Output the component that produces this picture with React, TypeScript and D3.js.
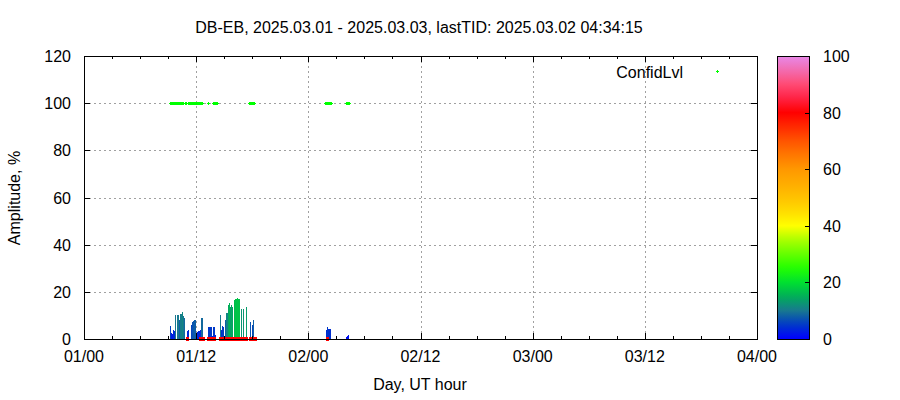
import React from "react";
import * as d3 from "d3";

const TITLE = "DB-EB, 2025.03.01 - 2025.03.03, lastTID: 2025.03.02 04:34:15";
const X_LABEL = "Day, UT hour";
const Y_LABEL = "Amplitude, %";
const LEGEND = "ConfidLvl";

const xTickHours = [0, 12, 24, 36, 48, 60, 72];
const xTickLabels = ["01/00", "01/12", "02/00", "02/12", "03/00", "03/12", "04/00"];
const xMinorHours = [3, 6, 9, 15, 18, 21, 27, 30, 33, 39, 42, 45, 51, 54, 57, 63, 66, 69];
const yTicks = [0, 20, 40, 60, 80, 100, 120];
const cbTicks = [0, 20, 40, 60, 80, 100];

// palette stops (value -> colour)
const paletteValues = [0, 5, 10, 15, 20, 25, 30, 35, 40, 45, 50, 55, 60, 65, 70, 75, 80, 85, 90, 95, 100];
const paletteColors = [
  "#0000ff", "#0038c8", "#187890", "#00ae58", "#00e030", "#22ff00", "#64ff00", "#aaff00",
  "#ffff00", "#ffdc00", "#ffc200", "#ffac00", "#ff9800", "#ff7800", "#ff5400", "#ff2a00",
  "#ff0000", "#ff2244", "#ff4a74", "#f26cb0", "#e888e8",
];

// amplitude bars: hours since 01/00 and amplitude %
const barHours = [
  9.2, 9.31, 9.41, 9.52, 9.63, 9.74, 9.95, 10.06, 10.16, 10.27, 10.38, 10.48, 10.59, 10.7,
  11.02, 11.13, 11.45, 11.55, 11.66, 11.77, 11.88, 12.09, 12.2, 12.3, 12.41, 12.52, 12.62,
  13.27, 13.37, 13.48, 13.59, 13.69, 13.8, 13.91, 14.02,
  14.55, 14.66, 14.76, 14.87, 15.09, 15.19, 15.3, 15.41, 15.51, 15.62, 15.73, 15.83,
  16.05, 16.15, 16.26, 16.37, 16.48, 16.58, 16.8, 17.01, 17.33, 17.76, 17.97, 18.08,
  25.89, 26.0, 26.1, 26.21, 26.32, 28.03, 28.14, 28.24,
];
const barValues = [
  5.5, 2.5, 2.2, 4, 3.6, 10, 10, 10.2, 8, 10.6, 10.4, 11.3, 9.8, 9,
  3.5, 4, 6, 7, 7.6, 8, 8, 3, 3.5, 3.5, 4, 8.8, 8.8,
  5, 5, 5, 5, 1.3, 5, 5, 1.7,
  10, 4, 5.5, 5.2, 8, 11, 11, 14.4, 15.4, 13.7, 14.4, 13.7,
  16.5, 17, 17, 17.3, 17, 17, 12.7, 12.7, 13.4, 7, 6, 8,
  4.0, 5.0, 4.2, 4.2, 4.2, 1.0, 1.4, 1.7,
];

// ConfidLvl points at 100 (green) and at 0 (red)
const highPointHours = [
  9.2, 9.31, 9.41, 9.52, 9.63, 9.74, 9.84, 9.95, 10.06, 10.16, 10.27, 10.38, 10.48, 10.59,
  10.81, 10.91, 11.13, 11.23, 11.34, 11.45, 11.55, 11.66, 11.77, 11.88, 11.98, 12.09, 12.2, 12.3,
  12.41, 12.52, 12.62, 13.27, 13.8, 13.91, 14.02, 14.12, 14.23,
  17.65, 17.76, 17.87, 17.97, 18.08, 18.19,
  25.78, 25.89, 26.0, 26.1, 26.21, 26.32, 26.43, 28.03, 28.14, 28.24, 28.35,
];
const highPointValue = 100;
const lowPointHours = [
  11.02, 12.41, 12.52, 12.62, 12.73, 13.27, 13.37, 13.48, 13.59, 13.69, 13.8, 13.91,
  14.55, 14.66, 14.76, 14.87, 14.98, 15.09, 15.19, 15.3, 15.41, 15.51, 15.62, 15.73, 15.83,
  15.94, 16.05, 16.15, 16.26, 16.37, 16.48, 16.58, 16.69, 16.9, 17.01, 17.12, 17.33, 17.76,
  17.97, 18.08, 18.19, 18.29, 26.0,
];
const lowPointValue = 0;

const W = 900;
const H = 400;
const M = { left: 84, right: 757, top: 56, bottom: 339 };
const CB = { left: 777, right: 809 };
const FONT = "'Liberation Sans', Arial, sans-serif";

export default function App() {
  const xs = d3.scaleLinear().domain([0, 72]).range([M.left, M.right]);
  const ys = d3.scaleLinear().domain([0, 120]).range([M.bottom, M.top]);
  const cs = d3.scaleLinear().domain([0, 100]).range([M.bottom, M.top]);
  const color = d3
    .scaleLinear<string>()
    .domain(paletteValues)
    .range(paletteColors)
    .interpolate(d3.interpolateRgb)
    .clamp(true);

  const plus = (cx: number, cy: number, c: string, key: string) => (
    <g key={key} stroke={c} strokeWidth={1} shapeRendering="crispEdges">
      <line x1={cx - 1.5} x2={cx + 1.5} y1={cy + 0.5} y2={cy + 0.5} />
      <line x1={cx + 0.5} x2={cx + 0.5} y1={cy - 1} y2={cy + 2} />
    </g>
  );

  const cbStops = d3.range(0, 101, 2);

  return (
    <svg width={W} height={H} style={{ position: "absolute", left: 0, top: 0, background: "#fff" }} fontFamily={FONT}>
      <defs>
        <linearGradient id="cbgrad" x1="0" y1="1" x2="0" y2="0">
          {cbStops.map((v) => (
            <stop key={v} offset={`${v}%`} stopColor={color(v)} />
          ))}
        </linearGradient>
      </defs>
      <rect x={0} y={0} width={W} height={H} fill="#fff" />

      {/* grid */}
      <g stroke="#a0a0a0" strokeWidth={1} strokeDasharray="2,3" shapeRendering="crispEdges">
        {xTickHours.slice(1, -1).map((h) => (
          <line key={"gx" + h} x1={Math.round(xs(h)) + 0.5} x2={Math.round(xs(h)) + 0.5} y1={M.top} y2={M.bottom} />
        ))}
        {yTicks.slice(1, -1).map((v) => (
          <line key={"gy" + v} x1={M.left} x2={M.right} y1={Math.round(ys(v)) + 0.5} y2={Math.round(ys(v)) + 0.5} />
        ))}
      </g>

      {/* bars */}
      <g shapeRendering="crispEdges">
        {barHours.map((h, i) => {
          const x = Math.round(xs(h));
          const y = ys(barValues[i]);
          return <rect key={"b" + i} x={x} y={y} width={1} height={ys(0) - y} fill={color(barValues[i])} />;
        })}
      </g>

      {/* points */}
      {highPointHours.map((h, i) => plus(Math.round(xs(h)), Math.round(ys(highPointValue)), "#00ff00", "hp" + i))}
      <g shapeRendering="crispEdges" fill="#ff0000">
        {lowPointHours.map((h, i) => {
          const x = Math.round(xs(h));
          const y = Math.round(ys(lowPointValue));
          return <rect key={"lp" + i} x={x - 1} y={y - 2} width={3} height={4} />;
        })}
      </g>

      {/* frame and ticks */}
      <g stroke="#000" strokeWidth={1} fill="none" shapeRendering="crispEdges">
        <rect x={M.left + 0.5} y={M.top + 0.5} width={M.right - M.left} height={M.bottom - M.top} />
        {xTickHours.map((h) => {
          const x = Math.round(xs(h)) + 0.5;
          return (
            <g key={"xt" + h}>
              <line x1={x} x2={x} y1={M.bottom} y2={M.bottom - 6} />
              <line x1={x} x2={x} y1={M.top} y2={M.top + 6} />
            </g>
          );
        })}
        {xMinorHours.map((h) => {
          const x = Math.round(xs(h)) + 0.5;
          return (
            <g key={"xm" + h}>
              <line x1={x} x2={x} y1={M.bottom} y2={M.bottom - 3} />
              <line x1={x} x2={x} y1={M.top} y2={M.top + 3} />
            </g>
          );
        })}
        {yTicks.map((v) => {
          const y = Math.round(ys(v)) + 0.5;
          return (
            <g key={"yt" + v}>
              <line x1={M.left} x2={M.left + 6} y1={y} y2={y} />
              <line x1={M.right} x2={M.right - 6} y1={y} y2={y} />
            </g>
          );
        })}
      </g>

      {/* tick labels */}
      <g fontSize={16} fill="#000">
        {yTicks.map((v) => (
          <text key={"yl" + v} x={71} y={ys(v) + 6} textAnchor="end">
            {v}
          </text>
        ))}
        {xTickHours.map((h, i) => (
          <text key={"xl" + h} x={xs(h)} y={362} textAnchor="middle">
            {xTickLabels[i]}
          </text>
        ))}
        <text x={419} y={33} textAnchor="middle">
          {TITLE}
        </text>
        <text x={420} y={390} textAnchor="middle">
          {X_LABEL}
        </text>
        <text transform={`translate(20,198) rotate(-90)`} textAnchor="middle">
          {Y_LABEL}
        </text>
        <text x={683} y={78} textAnchor="end">
          {LEGEND}
        </text>
      </g>
      {plus(717, 71, "#00ff00", "legendpt")}

      {/* colour box */}
      <rect x={CB.left} y={M.top} width={CB.right - CB.left} height={M.bottom - M.top} fill="url(#cbgrad)" />
      <g stroke="#000" strokeWidth={1} fill="none" shapeRendering="crispEdges">
        <rect x={CB.left + 0.5} y={M.top + 0.5} width={CB.right - CB.left} height={M.bottom - M.top} />
        {cbTicks.map((v) => {
          const y = Math.round(cs(v)) + 0.5;
          return <line key={"ct" + v} x1={CB.right} x2={CB.right - 4} y1={y} y2={y} />;
        })}
      </g>
      <g fontSize={16} fill="#000">
        {cbTicks.map((v) => (
          <text key={"cl" + v} x={823} y={cs(v) + 6}>
            {v}
          </text>
        ))}
      </g>
    </svg>
  );
}
